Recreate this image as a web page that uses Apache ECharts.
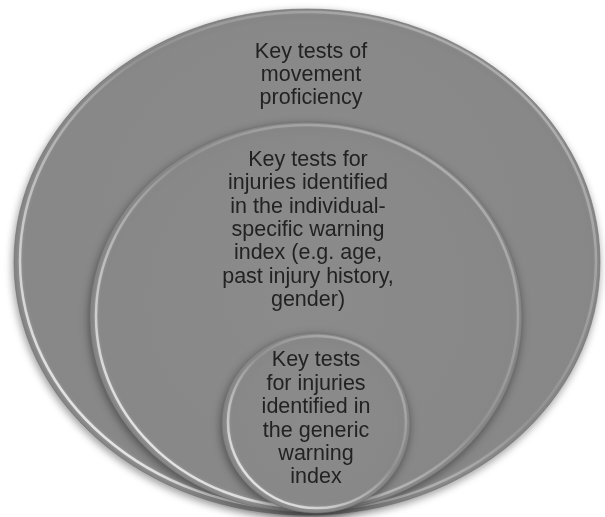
<!DOCTYPE html>
<html>
<head>
<meta charset="utf-8">
<script src="https://cdn.jsdelivr.net/npm/echarts@6/dist/echarts.min.js"></script>
<style>
  html, body { margin: 0; padding: 0; background: #fff; }
  #main { width: 605px; height: 517px; }
</style>
</head>
<body>
<div id="main"></div>
<script>
// nested ellipses, outermost first
var labels = [
  'Key tests of\nmovement\nproficiency',
  'Key tests for\ninjuries identified\nin the individual-\nspecific warning\nindex (e.g. age,\npast injury history,\ngender)',
  'Key tests\nfor injuries\nidentified in\nthe generic\nwarning\nindex'
];
var centerX = [307, 306, 316];
var centerY = [262, 317, 423];
var radiusX = [293, 216, 94];
var radiusY = [253, 195, 90];
var textX = [311, 308, 316];
var textY = [75, 230, 419];

var data = [];
for (var i = 0; i < labels.length; i++) {
  data.push([centerX[i], centerY[i], radiusX[i], radiusY[i], textX[i], textY[i], labels[i]]);
}

var chart = echarts.init(document.getElementById('main'));

chart.setOption({
  animation: false,
  grid: { left: 0, right: 0, top: 0, bottom: 0 },
  xAxis: { type: 'value', min: 0, max: 605, show: false },
  yAxis: { type: 'value', min: 0, max: 517, inverse: true, show: false },
  series: [{
    type: 'custom',
    coordinateSystem: 'cartesian2d',
    data: data,
    renderItem: function (params, api) {
      var c = api.coord([api.value(0), api.value(1)]);
      var r = api.size([api.value(2), api.value(3)]);
      var t = api.coord([api.value(4), api.value(5)]);
      return {
        type: 'group',
        children: [
          {
            // body with soft shadow
            type: 'ellipse',
            shape: { cx: c[0], cy: c[1], rx: r[0], ry: r[1] },
            style: {
              fill: {
                type: 'radial', x: 0.5, y: 0.45, r: 0.72,
                colorStops: [
                  { offset: 0, color: '#8b8b8b' },
                  { offset: 0.88, color: '#878787' },
                  { offset: 1, color: '#6a6a6a' }
                ]
              },
              stroke: 'rgba(110,110,110,0.6)',
              lineWidth: 1,
              shadowBlur: 8,
              shadowOffsetX: -1,
              shadowOffsetY: 3,
              shadowColor: 'rgba(0,0,0,0.4)'
            }
          },
          {
            // bevel highlight, brightest lower-left
            type: 'ellipse',
            shape: { cx: c[0] + 1, cy: c[1] - 1, rx: r[0] - 5, ry: r[1] - 4 },
            style: {
              fill: null,
              stroke: {
                type: 'linear', x: 0.9, y: 0, x2: 0.1, y2: 1,
                colorStops: [
                  { offset: 0, color: 'rgba(255,255,255,0.35)' },
                  { offset: 0.45, color: 'rgba(255,255,255,0.08)' },
                  { offset: 0.75, color: 'rgba(255,255,255,0.5)' },
                  { offset: 1, color: 'rgba(255,255,255,0.9)' }
                ]
              },
              lineWidth: 2.5,
              shadowBlur: 3,
              shadowColor: 'rgba(255,255,255,0.4)'
            }
          },
          {
            type: 'text',
            style: {
              x: t[0],
              y: t[1],
              text: api.value(6),
              align: 'center',
              verticalAlign: 'middle',
              fill: '#222222',
              font: '21.5px "Liberation Sans", Arial, sans-serif',
              lineHeight: 23.4
            }
          }
        ]
      };
    }
  }]
});
</script>
</body>
</html>
